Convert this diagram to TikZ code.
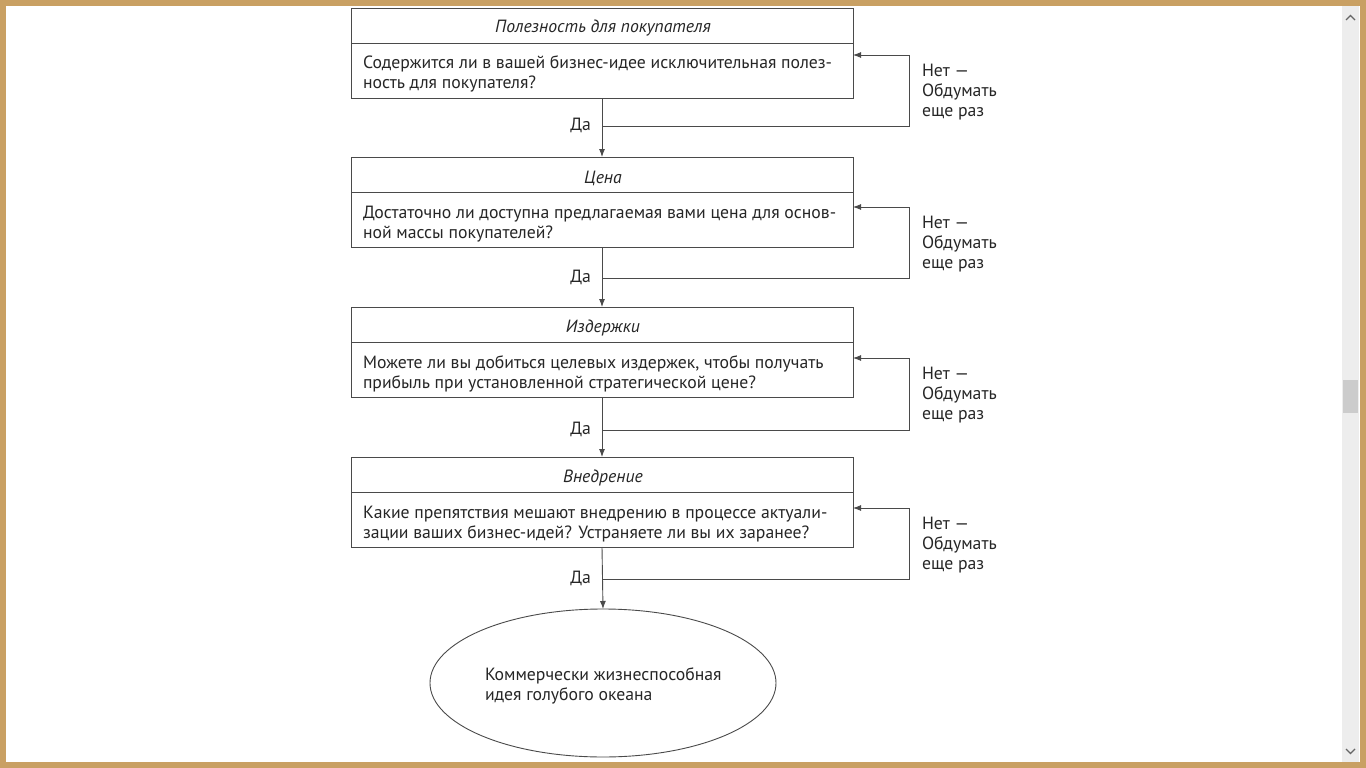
\documentclass[tikz,border=0pt]{standalone}
\usepackage{fontspec}
\setmainfont{PT Sans}
\usetikzlibrary{arrows.meta,shapes.geometric}
\definecolor{frame}{HTML}{C9A063}
\definecolor{line}{HTML}{4A4A4A}
\begin{document}
\begin{tikzpicture}[x=1pt,y=-1pt,
  every node/.style={inner sep=0pt,outer sep=0pt},
  box/.style={draw=line,line width=0.9pt,minimum width=502pt,minimum height=90pt},
  ttl/.style={font=\fontsize{17.7}{20}\selectfont\itshape,text=black!85},
  qst/.style={font=\fontsize{17.7}{20}\selectfont,text=black!85,align=left,anchor=west},
  lbl/.style={font=\fontsize{17.7}{20}\selectfont,text=black!85},
  conn/.style={draw=line,line width=0.9pt},
  arr/.style={conn,-{Latex[length=8pt,width=6pt]}}]
% canvas and frame
\useasboundingbox (0,0) rectangle (1366,768);
\fill[white] (0,0) rectangle (1366,768);
\fill[black!7] (1342,6) rectangle (1359,762);
\fill[black!20] (1343,380) rectangle (1358,413);
\draw[black!60,line width=1.3pt] (1346,20) -- (1350.5,15.5) -- (1355,20);
\draw[black!60,line width=1.3pt] (1346,749) -- (1350.5,753.5) -- (1355,749);
\draw[frame,line width=6pt] (3,3) rectangle (1363,765);

% boxes
\foreach \i/\y in {1/8,2/157,3/307,4/457}{
  \node[box,anchor=north west] (b\i) at (351,\y) {};
  \draw[line,line width=0.9pt] (351,\y+35) -- (853,\y+35);
}
\node[ttl] (t1) at (603,28) {Полезность для покупателя};
\node[qst] (q1) at (363,74) {Содержится ли в вашей бизнес-идее исключительная полез-\\ность для покупателя?};
\node[ttl] (t2) at (603,178) {Цена};
\node[qst] (q2) at (363,224) {Достаточно ли доступна предлагаемая вами цена для основ-\\ной массы покупателей?};
\node[ttl] (t3) at (603,328) {Издержки};
\node[qst] (q3) at (363,374) {Можете ли вы добиться целевых издержек, чтобы получать\\прибыль при установленной стратегической цене?};
\node[ttl] (t4) at (603,478) {Внедрение};
\node[qst] (q4) at (363,524) {Какие препятствия мешают внедрению в процессе актуали-\\зации ваших бизнес-идей? Устраняете ли вы их заранее?};

% final ellipse
\node[ellipse,draw=line,line width=0.9pt,minimum width=346pt,minimum height=148pt] (end) at (603,683) {};
\node[qst] (qe) at (485,686) {Коммерчески жизнеспособная\\идея голубого океана};

% yes arrows and feedback loops
\foreach \i/\j/\yy/\ya in {1/b2/126/55,2/b3/278/207,3/b4/430/358,4/end/579/508}{
  \draw[arr] (b\i.south) -- (\j.north);
  \coordinate (j\i) at (603,\yy);
  \coordinate (c\i) at (909,\yy);
  \coordinate (d\i) at (909,\ya);
  \draw[arr] (j\i) -- (c\i) -- (d\i) -- (b\i.east |- d\i);
  \node[lbl,anchor=east] (y\i) at (591,\yy-1) {Да};
  \node[lbl,anchor=west,align=left] (n\i) at (922,\ya+37) {Нет —\\Обдумать\\еще раз};
}
\end{tikzpicture}
\end{document}
